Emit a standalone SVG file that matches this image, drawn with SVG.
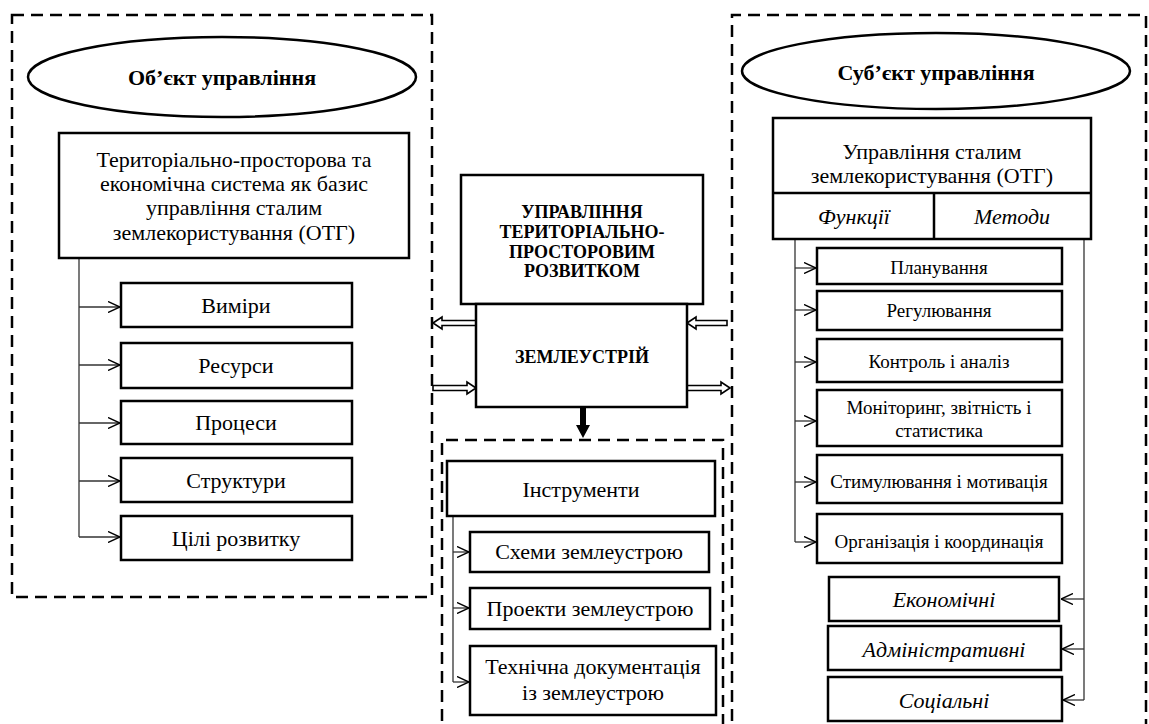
<svg xmlns="http://www.w3.org/2000/svg" width="1149" height="724" viewBox="0 0 1149 724">
<defs>
<style>
text{font-family:"Liberation Serif","Times New Roman",serif;fill:#000;text-anchor:middle}
.box{fill:#fff;stroke:#000;stroke-width:2.5}
.dash{fill:none;stroke:#000;stroke-width:2.5;stroke-dasharray:12 7}
.ln{fill:none;stroke:#333;stroke-width:1.3}
.t22{font-size:22px}
.t19{font-size:19px}
.it{font-style:italic;font-size:22px}
.bcap{font-weight:bold;font-size:18px}
.ell{font-weight:bold;font-size:22px}
.harr{fill:#fff;stroke:#000;stroke-width:1.6}
</style>
<marker id="oa" viewBox="0 0 12 12" refX="12" refY="6" markerWidth="12" markerHeight="12" markerUnits="userSpaceOnUse" orient="auto">
<path d="M0,0.5 L12,6 L0,11.5" fill="none" stroke="#000" stroke-width="1.4"/>
</marker>
</defs>
<rect width="1149" height="724" fill="#fff"/>

<g id="regions">
<rect class="dash" x="12" y="15" width="420" height="582"/>
<path class="dash" d="M732,740 V15 H1146 V740"/>
<path class="dash" d="M442,740 V440 H723 V740"/>
</g>

<g id="connectors">
<path class="ln" d="M79,258 V537"/>
<path class="ln" d="M79,307 H120" marker-end="url(#oa)"/>
<path class="ln" d="M79,365 H120" marker-end="url(#oa)"/>
<path class="ln" d="M79,423 H120" marker-end="url(#oa)"/>
<path class="ln" d="M79,481 H120" marker-end="url(#oa)"/>
<path class="ln" d="M79,537 H120" marker-end="url(#oa)"/>

<path class="ln" d="M453,516 V682"/>
<path class="ln" d="M453,552 H469" marker-end="url(#oa)"/>
<path class="ln" d="M453,608 H469" marker-end="url(#oa)"/>
<path class="ln" d="M453,682 H469" marker-end="url(#oa)"/>

<path class="ln" d="M795,239 V542"/>
<path class="ln" d="M795,268 H816" marker-end="url(#oa)"/>
<path class="ln" d="M795,310 H816" marker-end="url(#oa)"/>
<path class="ln" d="M795,362 H816" marker-end="url(#oa)"/>
<path class="ln" d="M795,421 H816" marker-end="url(#oa)"/>
<path class="ln" d="M795,482 H816" marker-end="url(#oa)"/>
<path class="ln" d="M795,542 H816" marker-end="url(#oa)"/>

<path class="ln" d="M1084,239 V700"/>
<path class="ln" d="M1084,599 H1061" marker-end="url(#oa)"/>
<path class="ln" d="M1084,649 H1062" marker-end="url(#oa)"/>
<path class="ln" d="M1084,700 H1063" marker-end="url(#oa)"/>

<polygon class="harr" points="433,323 442,317 442,320.5 476,320.5 476,325.5 442,325.5 442,329"/>
<polygon class="harr" points="476,388 467,382 467,385.5 433,385.5 433,390.5 467,390.5 467,394"/>
<polygon class="harr" points="687,323 696,317 696,320.5 727,320.5 727,325.5 696,325.5 696,329"/>
<polygon class="harr" points="730,388 721,382 721,385.5 687,385.5 687,390.5 721,390.5 721,394"/>
<polygon points="580,407 586,407 586,425 590,425 583,438 576,425 580,425" fill="#000"/>
</g>

<g id="object-ellipse">
<ellipse cx="222" cy="77" rx="194" ry="40" fill="#fff" stroke="#000" stroke-width="2.5"/>
<text class="ell" x="222" y="85">Об’єкт управління</text>
</g>
<g id="object-system">
<rect class="box" x="59" y="133" width="350" height="125"/>
<text class="t22" x="234" y="167">Територіально-просторова та</text>
<text class="t22" x="234" y="191">економічна система як базис</text>
<text class="t22" x="234" y="215">управління сталим</text>
<text class="t22" x="234" y="240">землекористування (ОТГ)</text>
</g>
<g id="vymiry"><rect class="box" x="121" y="283" width="231" height="44"/><text class="t22" x="236" y="313">Виміри</text></g>
<g id="resursy"><rect class="box" x="121" y="343" width="231" height="45"/><text class="t22" x="236" y="373">Ресурси</text></g>
<g id="protsesy"><rect class="box" x="121" y="401" width="231" height="43"/><text class="t22" x="236" y="430">Процеси</text></g>
<g id="struktury"><rect class="box" x="121" y="458" width="231" height="44"/><text class="t22" x="236" y="488">Структури</text></g>
<g id="tsili"><rect class="box" x="121" y="516" width="231" height="44"/><text class="t22" x="236" y="546">Цілі розвитку</text></g>

<g id="upravlinnia">
<rect class="box" x="461" y="175" width="242" height="129"/>
<text class="bcap" x="582" y="218">УПРАВЛІННЯ</text>
<text class="bcap" x="582" y="238">ТЕРИТОРІАЛЬНО-</text>
<text class="bcap" x="582" y="258">ПРОСТОРОВИМ</text>
<text class="bcap" x="582" y="277">РОЗВИТКОМ</text>
</g>
<g id="zemleustrii">
<rect class="box" x="476" y="304" width="211" height="103"/>
<text class="bcap" x="582" y="363">ЗЕМЛЕУСТРІЙ</text>
</g>
<g id="instrumenty"><rect class="box" x="447" y="461" width="268" height="55"/><text class="t22" x="581" y="497">Інструменти</text></g>
<g id="skhemy"><rect class="box" x="470" y="532" width="239" height="40"/><text class="t22" x="589" y="559">Схеми землеустрою</text></g>
<g id="proekty"><rect class="box" x="470" y="588" width="240" height="41"/><text class="t22" x="590" y="616">Проекти землеустрою</text></g>
<g id="tekhnichna"><rect class="box" x="470" y="646" width="246" height="69"/>
<text class="t22" x="593" y="674">Технічна документація</text>
<text class="t22" x="593" y="700">із землеустрою</text></g>

<g id="subject-ellipse">
<ellipse cx="936" cy="71" rx="194" ry="38" fill="#fff" stroke="#000" stroke-width="2.5"/>
<text class="ell" x="936" y="80">Суб’єкт управління</text>
</g>
<g id="subject-management">
<rect class="box" x="773" y="118" width="318" height="121"/>
<path d="M773,193 H1091 M934,193 V239" stroke="#000" stroke-width="2.5" fill="none"/>
<text class="t22" x="932" y="159">Управління сталим</text>
<text class="t22" x="932" y="183">землекористування (ОТГ)</text>
<text class="it" x="854" y="224">Функції</text>
<text class="it" x="1012" y="224">Методи</text>
</g>
<g id="planuvannia"><rect class="box" x="817" y="248" width="245" height="36"/><text class="t19" x="939" y="274">Планування</text></g>
<g id="rehuliuvannia"><rect class="box" x="817" y="291" width="245" height="39"/><text class="t19" x="939" y="317">Регулювання</text></g>
<g id="kontrol"><rect class="box" x="817" y="339" width="245" height="43"/><text class="t19" x="939" y="368">Контроль і аналіз</text></g>
<g id="monitorynh"><rect class="box" x="817" y="390" width="245" height="56"/>
<text class="t19" x="939" y="414">Моніторинг, звітність і</text>
<text class="t19" x="939" y="437">статистика</text></g>
<g id="stymuliuvannia"><rect class="box" x="817" y="455" width="245" height="48"/><text class="t19" x="939" y="488">Стимулювання і мотивація</text></g>
<g id="orhanizatsiia"><rect class="box" x="817" y="514" width="245" height="49"/><text class="t19" x="939" y="548">Організація і координація</text></g>
<g id="ekonomichni"><rect class="box" x="829" y="577" width="230" height="44"/><text class="it" x="944" y="607">Економічні</text></g>
<g id="administratyvni"><rect class="box" x="828" y="626" width="233" height="44"/><text class="it" x="944" y="657">Адміністративні</text></g>
<g id="sotsialni"><rect class="box" x="828" y="677" width="234" height="44"/><text class="it" x="944" y="708">Соціальні</text></g>
</svg>
